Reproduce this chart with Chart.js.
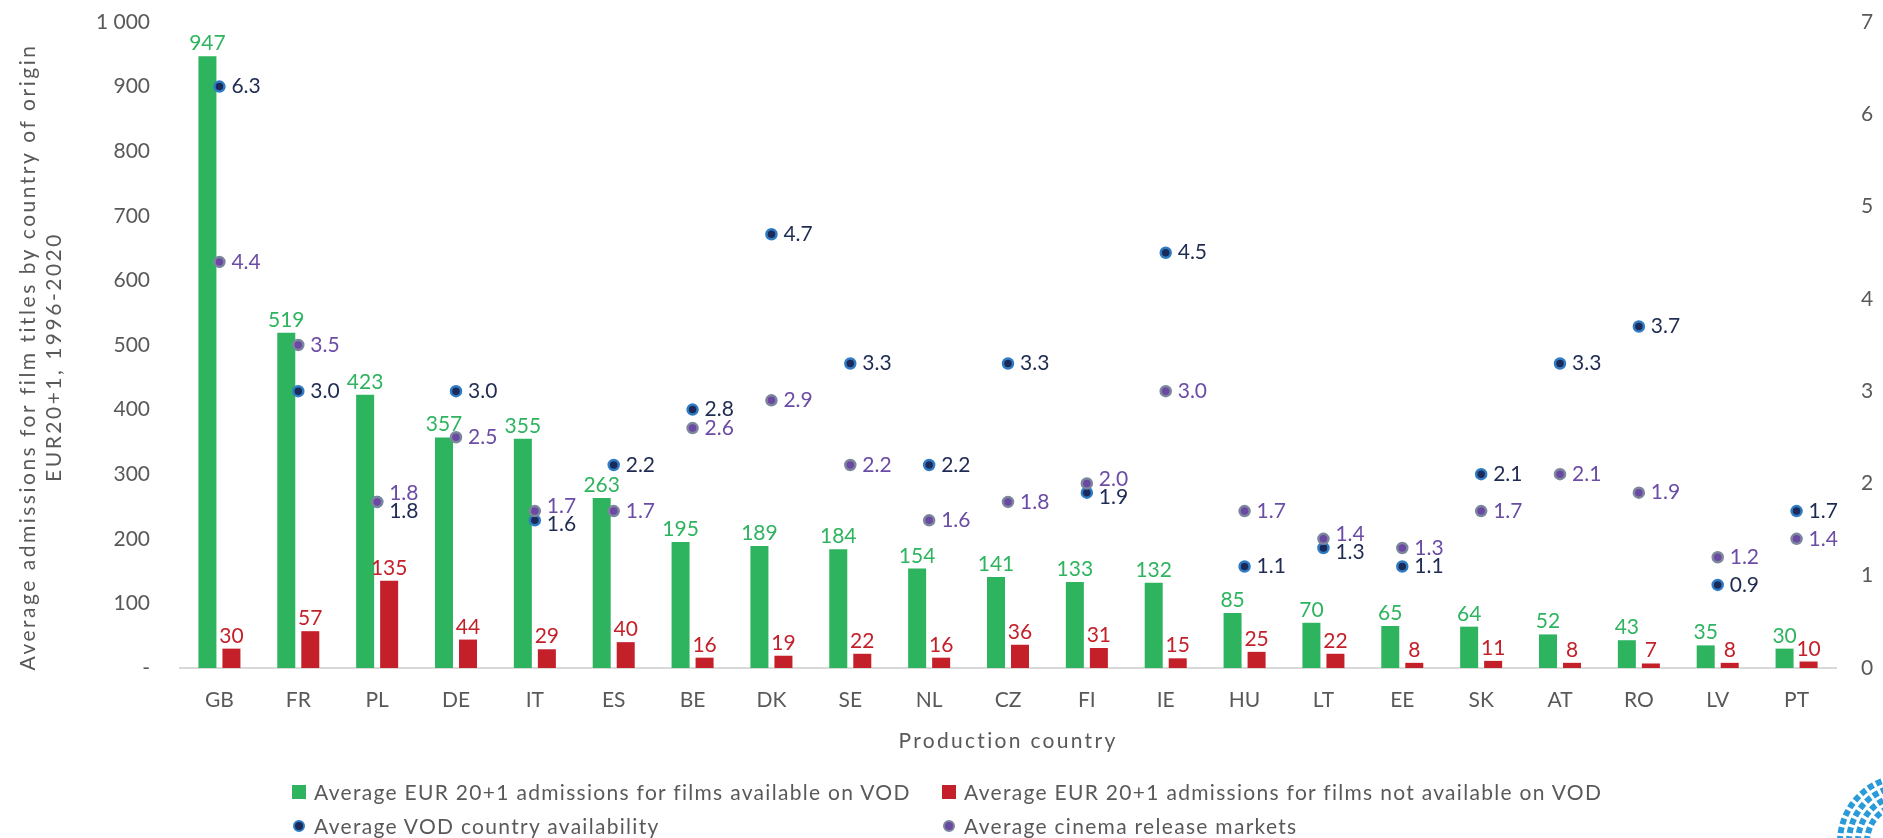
<!DOCTYPE html>
<html><head><meta charset="utf-8">
<script src="https://cdn.jsdelivr.net/npm/chart.js@4/dist/chart.umd.min.js"></script>
<style>
html,body{margin:0;padding:0;background:#fff;}
#wrap{position:relative;width:1883px;height:838px;overflow:hidden;}
#c{position:absolute;left:0;top:0;}
.lg{position:absolute;font-family:Lato,sans-serif;font-size:21px;letter-spacing:1.3px;color:#595959;white-space:nowrap;line-height:24px;}
.mk{position:absolute;}
</style></head><body>
<div id="wrap"><canvas id="c" width="1883" height="838"></canvas><div id="legend"></div></div>
<script>
const categories = ['GB','FR','PL','DE','IT','ES','BE','DK','SE','NL','CZ','FI','IE','HU','LT','EE','SK','AT','RO','LV','PT'];
const admissionsVod = [947,519,423,357,355,263,195,189,184,154,141,133,132,85,70,65,64,52,43,35,30];
const admissionsNoVod = [30,57,135,44,29,40,16,19,22,16,36,31,15,25,22,8,11,8,7,8,10];
const vodAvailability = [6.3,3.0,1.8,3.0,1.6,2.2,2.8,4.7,3.3,2.2,3.3,1.9,4.5,1.1,1.3,1.1,2.1,3.3,3.7,0.9,1.7];
const cinemaMarkets = [4.4,3.5,1.8,2.5,1.7,1.7,2.6,2.9,2.2,1.6,1.8,2.0,3.0,1.7,1.4,1.3,1.7,2.1,1.9,1.2,1.4];
const seriesNames = ['Average EUR 20+1 admissions for films available on VOD','Average EUR 20+1 admissions for films not available on VOD','Average VOD country availability','Average cinema release markets'];
const leftAxisTitle = ['Average admissions for film titles by country of origin','EUR20+1, 1996-2020'];
const xAxisTitle = 'Production country';

const GREEN='#2eb45f', RED='#c4202a', NAVY='#1b2a58', NAVYRIM='#2f7cc4', PURPLE='#6a48a3', PURPLERIM='#7c879b';
const NAVYTXT='#1f2b52', PURPLETXT='#6b4ca6', GREY='#595959';

Chart.defaults.font.family = 'Lato';
Chart.defaults.font.size = 21;
Chart.defaults.color = GREY;

const labelPlugin = {
  id:'valueLabels',
  afterDatasetsDraw(chart){
    const ctx = chart.ctx;
    ctx.save();
    ctx.font = '21px Lato';
    const barCols = [GREEN, RED];
    [0,1].forEach(di=>{
      const meta = chart.getDatasetMeta(di);
      ctx.fillStyle = barCols[di]; ctx.textAlign='center'; ctx.textBaseline='alphabetic';
      meta.data.forEach((el,i)=>{ ctx.fillText(String(chart.data.datasets[di].data[i]), el.x, el.y - 6); });
    });
    const mN = chart.getDatasetMeta(2), mP = chart.getDatasetMeta(3);
    ctx.textAlign='left'; ctx.textBaseline='middle';
    mN.data.forEach((pn,i)=>{
      const pp = mP.data[i];
      let yn = pn.y, yp = pp.y;
      if (Math.abs(yn-yp) < 18) {
        const mid=(yn+yp)/2;
        if (cinemaMarkets[i] >= vodAvailability[i]) { yp=mid-9; yn=mid+9; } else { yn=mid-9; yp=mid+9; }
      }
      ctx.fillStyle = NAVYTXT; ctx.fillText(vodAvailability[i].toFixed(1), pn.x + 12, yn);
      ctx.fillStyle = PURPLETXT; ctx.fillText(cinemaMarkets[i].toFixed(1), pp.x + 12, yp);
    });
    ctx.restore();
  }
};

// wider tracking for the axis titles (as in the reference)
const titleSpacingPlugin = {
  id:'titleSpacing',
  beforeDraw(chart){
    const cfg = {x:{ls:'2.3px', dy:0}, y:{ls:'2.5px', dy:12}};
    Object.keys(cfg).forEach(id=>{
      const s = chart.scales[id];
      if (s && !s._lsPatched){
        const orig = s.drawTitle;
        s.drawTitle = function(){
          const c = this.ctx; c.save();
          c.letterSpacing = cfg[id].ls; c.translate(0, cfg[id].dy);
          orig.call(this);
          c.restore();
        };
        s._lsPatched = true;
      }
    });
  }
};

const logoPlugin = {
  id:'logo',
  afterDraw(chart){
    const ctx = chart.ctx;
    ctx.save();
    ctx.strokeStyle = '#2a9bd8';
    ctx.lineWidth = 6;
    ctx.setLineDash([6,3]);
    [38,47,56,65].forEach(r=>{
      ctx.beginPath(); ctx.arc(1905, 842, r, Math.PI, 1.5*Math.PI); ctx.stroke();
    });
    ctx.restore();
  }
};

function trimPad(s){ s.paddingTop = 12; s.paddingBottom = 12; }

new Chart(document.getElementById('c'), {
  data: {
    labels: categories,
    datasets: [
      {type:'bar', label:seriesNames[0], data:admissionsVod, backgroundColor:GREEN, yAxisID:'y', order:2, categoryPercentage:0.609, barPercentage:0.75},
      {type:'bar', label:seriesNames[1], data:admissionsNoVod, backgroundColor:RED, yAxisID:'y', order:2, categoryPercentage:0.609, barPercentage:0.75},
      {type:'line', label:seriesNames[2], data:vodAvailability, yAxisID:'y1', showLine:false, order:1,
        pointRadius:5, pointBorderWidth:2.5, pointBackgroundColor:NAVY, pointBorderColor:NAVYRIM},
      {type:'line', label:seriesNames[3], data:cinemaMarkets, yAxisID:'y1', showLine:false, order:0,
        pointRadius:5, pointBorderWidth:2.5, pointBackgroundColor:PURPLE, pointBorderColor:PURPLERIM}
    ]
  },
  options: {
    responsive:false, animation:false, devicePixelRatio:1,
    layout:{padding:{top:22,left:0,right:0,bottom:84}},
    plugins:{legend:{display:false}, tooltip:{enabled:false}},
    scales:{
      x:{
        grid:{display:false, drawTicks:false},
        border:{display:true, color:'#d9d9d9', width:2},
        ticks:{padding:20, color:GREY, font:{size:21}},
        title:{display:true, text:xAxisTitle, color:GREY, font:{size:21}, padding:{top:0,bottom:0}},
        afterFit(s){ s.height = 86; }
      },
      y:{
        position:'left', min:0, max:1000,
        grid:{display:false, drawTicks:false}, border:{display:false},
        ticks:{stepSize:100, padding:30, color:GREY, font:{size:21},
          callback:(v)=> v===0 ? '-' : (v>=1000 ? String(v).replace(/\B(?=(\d{3})+(?!\d))/g,' ') : String(v))},
        title:{display:true, text:leftAxisTitle, color:GREY, font:{size:21}, padding:{top:16,bottom:0}},
        afterFit(s){ s.width = 180; trimPad(s); }
      },
      y1:{
        position:'right', min:0, max:7,
        grid:{display:false, drawTicks:false}, border:{display:false},
        ticks:{stepSize:1, padding:25, color:GREY, font:{size:21}},
        afterFit(s){ s.width = 47; trimPad(s); }
      }
    }
  },
  plugins:[titleSpacingPlugin, labelPlugin, logoPlugin]
});

// legend (2 x 2 grid)
const legendItems = [
  {text:seriesNames[0], kind:'square', color:GREEN, x:292, y:792},
  {text:seriesNames[1], kind:'square', color:RED, x:942, y:792},
  {text:seriesNames[2], kind:'dot', color:NAVY, rim:NAVYRIM, x:292, y:826},
  {text:seriesNames[3], kind:'dot', color:PURPLE, rim:PURPLERIM, x:942, y:826}
];
const lg = document.getElementById('legend');
legendItems.forEach(it=>{
  const m = document.createElement('div');
  m.className='mk';
  if (it.kind==='square'){
    Object.assign(m.style,{left:it.x+'px', top:(it.y-7)+'px', width:'14px', height:'14px', background:it.color});
  } else {
    Object.assign(m.style,{left:(it.x+1)+'px', top:(it.y-6)+'px', width:'8px', height:'8px', background:it.color, border:'2px solid '+it.rim, borderRadius:'50%'});
  }
  lg.appendChild(m);
  const t = document.createElement('div');
  t.className='lg'; t.textContent = it.text;
  Object.assign(t.style,{left:(it.x+22)+'px', top:(it.y-12)+'px'});
  lg.appendChild(t);
});
</script>
</body></html>
